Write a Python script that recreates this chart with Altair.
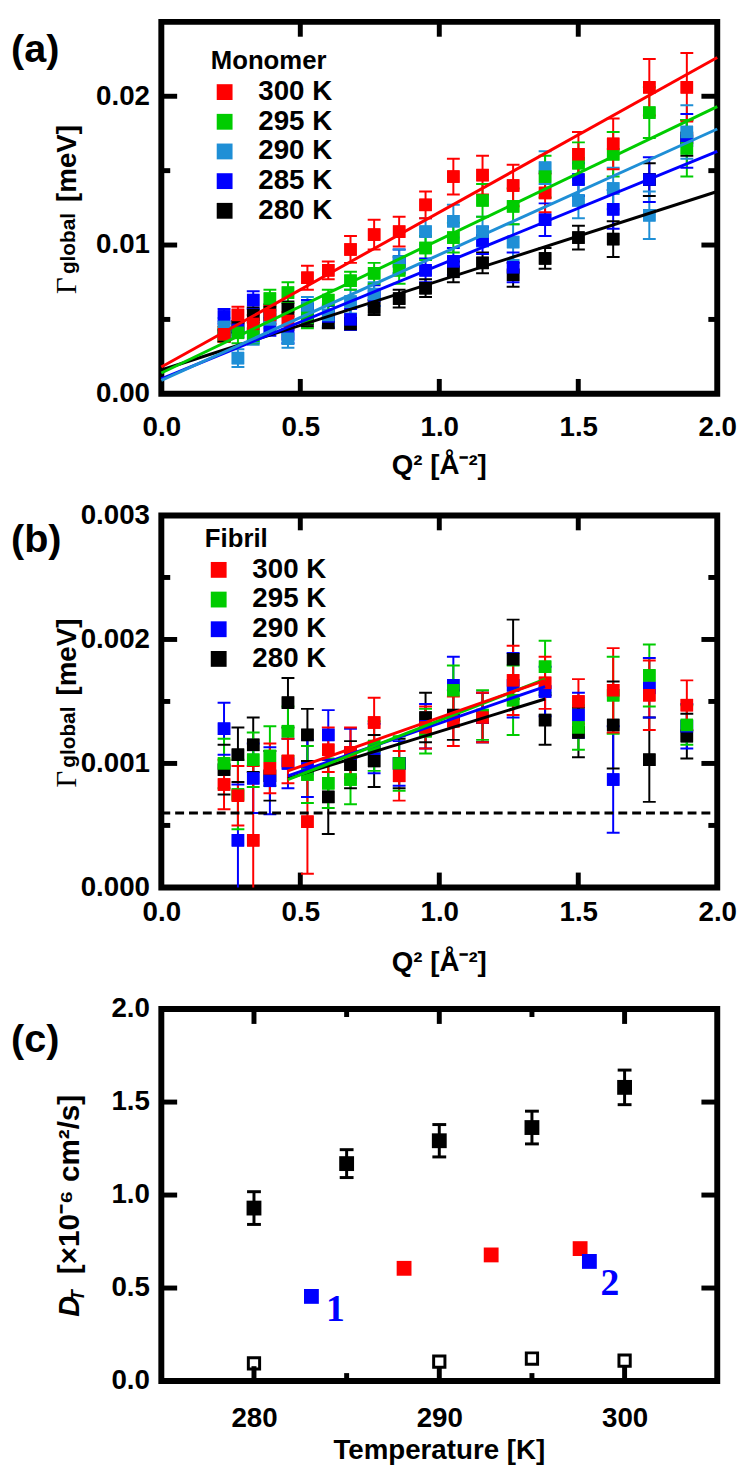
import altair as alt
import pandas as pd

W = 562
H = 376
FONT = "Liberation Sans, Arial, Helvetica, sans-serif"
SERIF = "Liberation Serif, Times New Roman, serif"

# ---------------- data ----------------
Q2 = [0.2256, 0.2756, 0.3306, 0.3906, 0.4556, 0.5256, 0.6006, 0.6806, 0.7656, 0.8556,
      0.9506, 1.0506, 1.1556, 1.2656, 1.3806, 1.5006, 1.6256, 1.7556, 1.8906]

# panel (a) monomer
a_series = ["300 K", "295 K", "290 K", "285 K", "280 K"]
a_colors = ["#ff0000", "#00cc00", "#1f8fd6", "#0000ff", "#000000"]
a_300 = [0.0040, 0.0053, 0.0047, 0.0053, 0.0049, 0.0078, 0.0083, 0.0097, 0.0107, 0.0109,
         0.0127, 0.0146, 0.0147, 0.0140, 0.0135, 0.0161, 0.0168, 0.0206, 0.0206]
a_300_err = [0.0005, 0.00055, 0.0006, 0.0006, 0.0006, 0.0008, 0.0006, 0.0009, 0.0010, 0.0010,
             0.0009, 0.0012, 0.0013, 0.0014, 0.0013, 0.0015, 0.0017, 0.0019, 0.0023]
a_295 = [0.0040, 0.0041, 0.0039, 0.0064, 0.0068, 0.0051, 0.0063, 0.0076, 0.0081, 0.0083,
         0.0098, 0.0105, 0.0130, 0.0126, 0.0146, 0.0155, 0.0161, 0.0189, 0.0165]
a_295_err = [0.0005, 0.0007, 0.0005, 0.0006, 0.0007, 0.0007, 0.0007, 0.0006, 0.0007, 0.0009,
             0.0008, 0.0010, 0.0011, 0.0012, 0.0014, 0.0014, 0.0015, 0.0017, 0.0019]
a_290 = [0.0045, 0.0024, 0.0038, 0.0050, 0.0037, 0.0058, 0.0053, 0.0062, 0.0067, 0.0089,
         0.0109, 0.0116, 0.0109, 0.0102, 0.0152, 0.0130, 0.0138, 0.0120, 0.0176]
a_290_err = [0.0006, 0.0006, 0.0005, 0.0006, 0.0006, 0.0007, 0.0007, 0.0008, 0.0008, 0.0008,
             0.0009, 0.0011, 0.0010, 0.0012, 0.0011, 0.0012, 0.0014, 0.0016, 0.0018]
a_285 = [0.0052, 0.0043, 0.0063, 0.0045, 0.0040, 0.0057, 0.0052, 0.0050, 0.0066, 0.0089,
         0.0083, 0.0089, 0.0103, 0.0085, 0.0117, 0.0144, 0.0124, 0.0144, 0.0170]
a_285_err = [0.0005, 0.0005, 0.0006, 0.0006, 0.0006, 0.0006, 0.0007, 0.0007, 0.0007, 0.0008,
             0.0008, 0.0009, 0.0009, 0.0010, 0.0011, 0.0011, 0.0013, 0.0015, 0.0018]
a_280 = [0.0039, 0.0045, 0.0053, 0.0055, 0.0057, 0.0050, 0.0048, 0.0047, 0.0058, 0.0064,
         0.0071, 0.0082, 0.0088, 0.0080, 0.0091, 0.0105, 0.0104, 0.0144, 0.0172]
a_280_err = [0.0004, 0.0004, 0.0005, 0.0005, 0.0005, 0.0005, 0.0004, 0.0004, 0.0005, 0.0006,
             0.0006, 0.0007, 0.0007, 0.0008, 0.0007, 0.0008, 0.0012, 0.0011, 0.0012]
a_fit_q2 = [0.0, 2.0]
a_fit_start = [0.0018, 0.0014, 0.0009, 0.0010, 0.0016]
a_fit_end = [0.0226, 0.0193, 0.0178, 0.0163, 0.0136]

# panel (b) fibril
b_series = ["300 K", "295 K", "290 K", "280 K"]
b_colors = ["#ff0000", "#00cc00", "#0000ff", "#000000"]
b_300 = [0.00083, 0.00074, 0.00038, 0.00096, 0.00102, 0.00053, 0.00111, 0.00109, 0.00133, 0.00090,
         0.00129, 0.00134, 0.00137, 0.00167, 0.00165, 0.00150, 0.00159, 0.00155, 0.00147]
b_300_err = [0.0002, 0.00024, 0.0006, 0.0002, 0.00018, 0.00042, 0.00018, 0.0002, 0.0002, 0.0002,
             0.00017, 0.0002, 0.0002, 0.00028, 0.00021, 0.00018, 0.00034, 0.00028, 0.0002]
b_295 = [0.00100, 0.00075, 0.00103, 0.00106, 0.00126, 0.00091, 0.00084, 0.00087, 0.00114, 0.00100,
         0.00126, 0.00159, 0.00139, 0.00151, 0.00178, 0.00129, 0.00155, 0.00171, 0.00131]
b_295_err = [0.0002, 0.00028, 0.00022, 0.00024, 0.0002, 0.00023, 0.0002, 0.0002, 0.0002, 0.00022,
             0.00018, 0.0002, 0.0002, 0.00028, 0.00021, 0.00018, 0.00031, 0.00025, 0.00016]
b_290 = [0.00128, 0.00038, 0.00088, 0.00086, 0.00100, 0.00096, 0.00123, 0.00108, 0.00112, 0.00100,
         0.00130, 0.00163, 0.00137, 0.00163, 0.00158, 0.00139, 0.00087, 0.00161, 0.00130]
b_290_err = [0.00021, 0.00045, 0.00028, 0.00027, 0.0002, 0.00023, 0.0002, 0.0002, 0.0002, 0.00018,
             0.00018, 0.00023, 0.0002, 0.00026, 0.0002, 0.00018, 0.00043, 0.00024, 0.00018]
b_280 = [0.00095, 0.00107, 0.00115, 0.00090, 0.00149, 0.00123, 0.00073, 0.00099, 0.00102, 0.00100,
         0.00137, 0.00139, 0.00137, 0.00184, 0.00135, 0.00125, 0.00131, 0.00103, 0.00122]
b_280_err = [0.0002, 0.00022, 0.00022, 0.0002, 0.0002, 0.00021, 0.0003, 0.00019, 0.00021, 0.0002,
             0.0002, 0.0002, 0.0002, 0.00032, 0.0002, 0.0002, 0.00035, 0.00034, 0.00018]
b_fit_q2 = [0.4556, 1.3806]
b_fit_start = [0.00094, 0.00087, 0.00090, 0.00088]
b_fit_end = [0.00167, 0.00168, 0.00162, 0.00152]
b_baseline = [0.0006]

# panel (c)
c_T = [280, 285, 290, 295, 300]
c_fast = [0.930, 1.169, 1.292, 1.363, 1.579]
c_fast_err = [0.088, 0.075, 0.087, 0.088, 0.093]
c_slow_T = [280, 290, 295, 300]
c_slow = [0.095, 0.104, 0.121, 0.110]
c_red_T = [288.1, 292.8, 297.6]
c_red = [0.606, 0.678, 0.712]
c_blue_T = [283.1, 298.1]
c_blue = [0.455, 0.643]
c_lbl = ["1", "2"]
c_lbl_T = [284.4, 299.2]
c_lbl_D = [0.38, 0.52]


# ---------------- helpers ----------------
def long_df(series, vals, errs, field):
    rows = []
    for s, v, e in reversed(list(zip(series, vals, errs))):
        for q, y, d in zip(Q2, v, e):
            rows.append({"q2": q, "v": y, "lo": y - d, "hi": y + d, field: s})
    return pd.DataFrame(rows)


def fit_df(series, xs, starts, ends, field):
    rows = []
    for s, a, b in reversed(list(zip(series, starts, ends))):
        rows.append({"q2": xs[0], "v": a, field: s})
        rows.append({"q2": xs[1], "v": b, field: s})
    return pd.DataFrame(rows)


def make_axis(vals, fmt, pad):
    return alt.Axis(values=vals, format=fmt, ticks=False, tickSize=0, domain=False, grid=False,
                    labelFont=FONT, labelFontSize=28, labelFontWeight="bold", labelColor="black",
                    labelPadding=pad, labelFlush=False, labelOverlap=False, title=None)


class Enc:
    """Same scale + same axis on every layer so the axes merge."""
    def __init__(self, xscale, xaxis, yscale, yaxis):
        self.xs, self.xa, self.ys, self.ya = xscale, xaxis, yscale, yaxis

    def X(self, f):
        return alt.X(f, scale=self.xs, axis=self.xa)

    def Y(self, f):
        return alt.Y(f, scale=self.ys, axis=self.ya)


def tick_layers(E, xmaj, xmin, ymaj, ymin, LM=15, Lm=8):
    layers = []
    for vals, L in ((xmaj, LM), (xmin, Lm)):
        if vals:
            d = pd.DataFrame({"t": vals})
            for y0, y1 in ((0, L), (H - L, H)):
                layers.append(alt.Chart(d).mark_rule(color="black", strokeWidth=5).encode(
                    x=E.X("t:Q"), y=alt.value(y0), y2=alt.value(y1)))
    for vals, L in ((ymaj, LM + 1), (ymin, Lm + 1)):
        if vals:
            d = pd.DataFrame({"t": vals})
            for x0, x1 in ((0, L), (W - L, W)):
                layers.append(alt.Chart(d).mark_rule(color="black", strokeWidth=5).encode(
                    y=E.Y("t:Q"), x=alt.value(x0), x2=alt.value(x1)))
    return layers


def txt(t, x, y, size=28, font=FONT, weight="bold", angle=0, align="left",
        baseline="alphabetic", style="normal", color="black"):
    kw = dict(font=font, fontSize=size, fontWeight=weight, align=align,
              baseline=baseline, color=color, fontStyle=style)
    if angle:
        kw["angle"] = angle
    return alt.Chart(pd.DataFrame({"t": [t]})).mark_text(**kw).encode(
        text="t:N", x=alt.value(x), y=alt.value(y))


def gamma_title():
    return [
        txt("\u0393", -86, 275, size=29, font=SERIF, weight="normal", angle=270),
        txt("global", -87, 255, size=21, angle=270),
        txt("[meV]", -86, 182, size=28, angle=270),
    ]


def q_panel(df, fdf, field, series, colors, ydom, yvals, yfmt, ymaj, ymin,
            legend_title, lx, ly, label, label_y, xpad, xtitle_y, extra=None):
    xs = alt.Scale(domain=[0, 2], nice=False, zero=False)
    ys = alt.Scale(domain=ydom, nice=False, zero=False)
    E = Enc(xs, make_axis([0, 0.5, 1, 1.5, 2], ".1f", xpad), ys, make_axis(yvals, yfmt, 12))
    cscale = alt.Scale(domain=series, range=colors)
    leg = alt.Legend(
        title=legend_title, orient="none", legendX=lx, legendY=ly,
        symbolType="square", symbolSize=256, symbolStrokeWidth=0, symbolOpacity=1,
        labelFont=FONT, labelFontSize=28, labelFontWeight="bold", labelColor="black",
        titleFont=FONT, titleFontSize=26, titleFontWeight="bold", titleColor="black",
        labelOffset=20, rowPadding=2, titlePadding=4, padding=0)
    col = alt.Color(f"{field}:N", scale=cscale, legend=None)
    base = alt.Chart(df)
    guide = base.mark_square(size=160, opacity=1).encode(
        x=E.X("q2:Q"), y=E.Y("v:Q"),
        color=alt.Color(f"{field}:N", scale=cscale, legend=leg))
    bars = base.mark_rule(strokeWidth=2, clip=True).encode(
        x=E.X("q2:Q"), y=E.Y("lo:Q"), y2="hi:Q", color=col)
    cap_hi = base.mark_tick(orient="horizontal", size=13, thickness=2, clip=True, opacity=1).encode(
        x=E.X("q2:Q"), y=E.Y("hi:Q"), color=col)
    cap_lo = base.mark_tick(orient="horizontal", size=13, thickness=2, clip=True, opacity=1).encode(
        x=E.X("q2:Q"), y=E.Y("lo:Q"), color=col)
    pts = base.mark_square(size=160, opacity=1).encode(
        x=E.X("q2:Q"), y=E.Y("v:Q"), color=col)
    lines = alt.Chart(fdf).mark_line(strokeWidth=3).encode(
        x=E.X("q2:Q"), y=E.Y("v:Q"), color=col, detail=f"{field}:N")
    layers = [guide]
    layers += tick_layers(E, [0.5, 1.0, 1.5], [], ymaj, ymin)
    layers += [bars, cap_hi, cap_lo, pts, lines]
    if extra is not None:
        layers += extra(E)
    layers += gamma_title()
    layers.append(txt(label, -152, label_y, size=40, baseline="middle"))
    layers.append(txt("Q\u00b2 [\u00c5\u207b\u00b2]", W / 2, xtitle_y, align="center"))
    return alt.layer(*layers).properties(width=W, height=H)


# ---------------- panel (a) ----------------
dfa = long_df(a_series, [a_300, a_295, a_290, a_285, a_280],
              [a_300_err, a_295_err, a_290_err, a_285_err, a_280_err], "mono")
fa = fit_df(a_series, a_fit_q2, a_fit_start, a_fit_end, "mono")
pa = q_panel(dfa, fa, "mono", a_series, a_colors, [0, 0.025], [0, 0.01, 0.02], ".2f",
             [0.01, 0.02], [0.005, 0.015], "Monomer", 50, 27, "(a)", 29, 20, 457)

# ---------------- panel (b) ----------------
dfb = long_df(b_series, [b_300, b_295, b_290, b_280],
              [b_300_err, b_295_err, b_290_err, b_280_err], "fib")
fb = fit_df(b_series, b_fit_q2, b_fit_start, b_fit_end, "fib")


def dashed(E):
    d = pd.DataFrame({"v": b_baseline})
    return [alt.Chart(d).mark_rule(color="black", strokeWidth=3, strokeDash=[9, 5]).encode(
        y=E.Y("v:Q"), x=alt.value(0), x2=alt.value(W))]


pb = q_panel(dfb, fb, "fib", b_series, b_colors, [0, 0.003], [0, 0.001, 0.002, 0.003], ".3f",
             [0.001, 0.002], [0.0005, 0.0015, 0.0025], "Fibril", 44, 11, "(b)", 25, 11, 460,
             extra=dashed)

# ---------------- panel (c) ----------------
xs_c = alt.Scale(domain=[275, 305], nice=False, zero=False)
ys_c = alt.Scale(domain=[0, 2], nice=False, zero=False)
Ec = Enc(xs_c, make_axis([280, 290, 300], "d", 24), ys_c,
         make_axis([0, 0.5, 1.0, 1.5, 2.0], ".1f", 12))
dfc = pd.DataFrame({"T": c_T, "D": c_fast,
                    "lo": [d - e for d, e in zip(c_fast, c_fast_err)],
                    "hi": [d + e for d, e in zip(c_fast, c_fast_err)]})
dslow = pd.DataFrame({"T": c_slow_T, "D": c_slow})
dred = pd.DataFrame({"T": c_red_T, "D": c_red})
dblue = pd.DataFrame({"T": c_blue_T, "D": c_blue})
dlbl = pd.DataFrame({"T": c_lbl_T, "D": c_lbl_D, "t": c_lbl})

c_layers = tick_layers(Ec, [280, 290, 300], [285, 295], [0.5, 1.0, 1.5], [])
c_layers += [
    alt.Chart(dfc).mark_rule(strokeWidth=3, color="black").encode(
        x=Ec.X("T:Q"), y=Ec.Y("lo:Q"), y2="hi:Q"),
    alt.Chart(dfc).mark_tick(orient="horizontal", size=14, thickness=3, color="black", opacity=1).encode(
        x=Ec.X("T:Q"), y=Ec.Y("hi:Q")),
    alt.Chart(dfc).mark_tick(orient="horizontal", size=14, thickness=3, color="black", opacity=1).encode(
        x=Ec.X("T:Q"), y=Ec.Y("lo:Q")),
    alt.Chart(dfc).mark_square(size=225, color="black", opacity=1).encode(
        x=Ec.X("T:Q"), y=Ec.Y("D:Q")),
    alt.Chart(dslow).mark_square(size=130, filled=False, color="black", strokeWidth=3, opacity=1).encode(
        x=Ec.X("T:Q"), y=Ec.Y("D:Q")),
    alt.Chart(dred).mark_square(size=225, color="#ff0000", opacity=1).encode(
        x=Ec.X("T:Q"), y=Ec.Y("D:Q")),
    alt.Chart(dblue).mark_square(size=225, color="#0000ff", opacity=1).encode(
        x=Ec.X("T:Q"), y=Ec.Y("D:Q")),
    alt.Chart(dlbl).mark_text(font=SERIF, fontSize=38, fontWeight="bold", color="#0000ff",
                              align="center", baseline="middle").encode(
        x=Ec.X("T:Q"), y=Ec.Y("D:Q"), text="t:N"),
    # y title pieces
    txt("D", -83, 311, size=29, style="italic", angle=270),
    txt("T", -78, 295, size=18, style="italic", angle=270),
    txt("[\u00d710\u207b\u2076 cm\u00b2/s]", -83, 268, size=30, angle=270),
    txt("Temperature [K]", W / 2, 455, align="center"),
    txt("(c)", -152, 31, size=40, baseline="middle"),
]
pc = alt.layer(*c_layers).properties(width=W, height=H)

chart = alt.vconcat(pa, pb, pc, spacing=123, bounds="flush").resolve_scale(
    color="independent", x="independent", y="independent"
).resolve_legend(color="independent").configure_view(
    stroke="black", strokeWidth=6
).properties(padding=0)

chart.save("out.html", embed_options={"renderer": "svg", "actions": False})
